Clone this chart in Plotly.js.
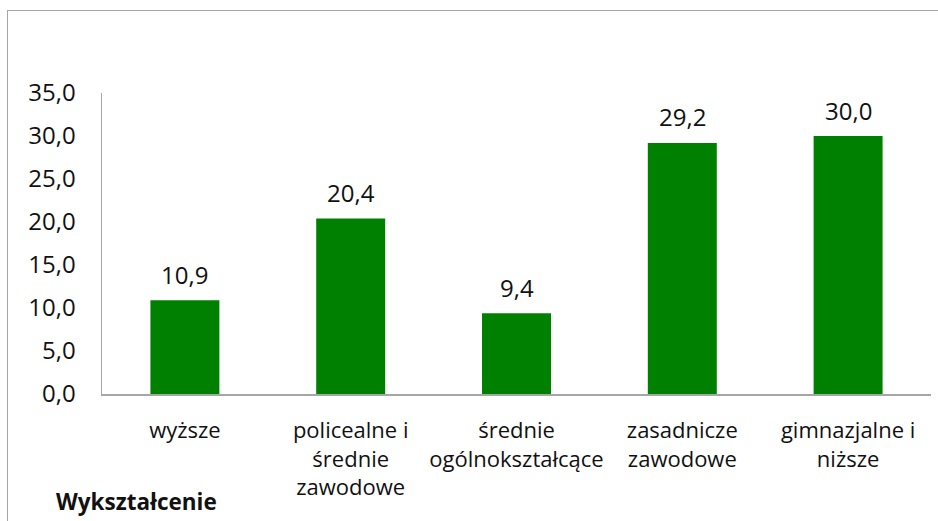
<!DOCTYPE html>
<html>
<head>
<meta charset="utf-8">
<script src="https://cdn.plot.ly/plotly-3.0.1.min.js"></script>
<style>
html,body{margin:0;padding:0;background:#fff;overflow:hidden;}
#chart{width:938px;height:521px;position:absolute;left:0;top:0;}
#frame{position:absolute;left:7px;top:10px;width:1200px;height:1200px;border:1.5px solid #a6a6a6;pointer-events:none;}
</style>
</head>
<body>
<div id="chart"></div>
<div id="frame"></div>
<script>
const categories = ["wyższe", "policealne i<br>średnie<br>zawodowe", "średnie<br>ogólnokształcące", "zasadnicze<br>zawodowe", "gimnazjalne i<br>niższe"];
const values = [10.9, 20.4, 9.4, 29.2, 30.0];
const yTicks = [0, 5, 10, 15, 20, 25, 30, 35];
const axisTitle = "Wykształcenie";

const FONT = "Open Sans, sans-serif";
const fmt = v => v.toFixed(1).replace('.', ',');

const trace = {
  type: 'bar',
  x: categories,
  y: values,
  marker: {color: '#008000'},
  width: 0.416,
  hoverinfo: 'skip'
};

const annotations = categories.map((c, i) => ({
  x: c, y: values[i], xref: 'x', yref: 'y',
  text: fmt(values[i]), showarrow: false,
  yanchor: 'middle', yshift: 26,
  font: {family: FONT, size: 24, color: '#111'}
}));
annotations.push({
  xref: 'paper', yref: 'paper', x: -0.058, y: -0.358,
  xanchor: 'left', yanchor: 'middle',
  text: '<b>' + axisTitle + '</b>', showarrow: false,
  font: {family: FONT, size: 22.5, color: '#111'}
});

const layout = {
  width: 938, height: 521,
  margin: {l: 102, r: 7, t: 93, b: 127},
  paper_bgcolor: 'rgba(0,0,0,0)', plot_bgcolor: '#fff',
  separators: ', ',
  showlegend: false,
  bargap: 0.584,
  xaxis: {
    type: 'category',
    showline: true, linecolor: '#a6a6a6', linewidth: 1.5,
    showgrid: false, zeroline: false, ticks: '',
    tickangle: 0,
    ticklabelstandoff: 16,
    tickfont: {family: FONT, size: 22, color: '#111'}
  },
  yaxis: {
    range: [0, 35],
    tickvals: yTicks,
    ticktext: yTicks.map(fmt),
    showline: true, linecolor: '#a6a6a6', linewidth: 1.5,
    showgrid: false, zeroline: false, ticks: '',
    ticklabelstandoff: 20,
    tickfont: {family: FONT, size: 24, color: '#111'}
  },
  annotations: annotations
};

Plotly.newPlot('chart', [trace], layout, {displayModeBar: false, staticPlot: true});
</script>
</body>
</html>
